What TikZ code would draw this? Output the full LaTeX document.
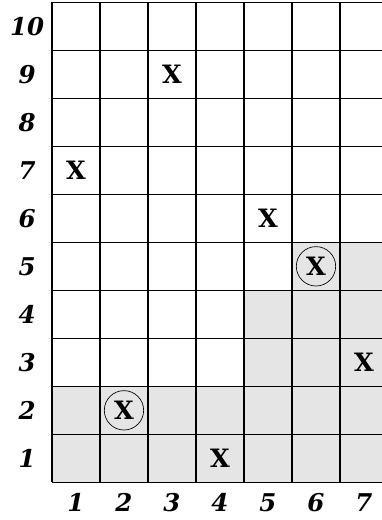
\documentclass[tikz,border=0pt]{standalone}
\usepackage{tikz}
\usetikzlibrary{positioning}
\usepackage{xcolor}
\usepackage{fontspec}
\newfontfamily\gridfont{DejaVu Serif}
\definecolor{shadegray}{RGB}{229,229,229}

\tikzset{
  axislabel/.style={font=\gridfont\bfseries\itshape\fontsize{14.5}{16}\selectfont},
  xmark/.style={font=\gridfont\bfseries\fontsize{15}{17}\selectfont,inner sep=1pt},
}

\begin{document}
\begin{tikzpicture}[x=1cm,y=1cm]
        \useasboundingbox (-1.083,-0.785) rectangle (6.875,10.048);
        % shaded region
        \fill[shadegray] (0,0) rectangle (7,2);
        \fill[shadegray] (4,2) rectangle (7,4);
        \fill[shadegray] (5,4) rectangle (7,5);
        \draw[line width=0.7pt] (0,0) grid (7,10);
        % row and column numbers
        \foreach \r in {1,...,10}
          \node[axislabel] (row\r) at (-0.52,\r-0.5) {\r};
        \foreach \c in {1,...,7}
          \node[axislabel] (col\c) at (\c-0.5,-0.42) {\c};
        % marks
        \foreach \c/\r in {3/9,1/7,5/6,7/3,4/1}
          \node[xmark] (x\c\r) at (\c-0.5,\r-0.5) {X};
        \foreach \c/\r in {6/5,2/2}
          \node[xmark,circle,draw,thin,minimum size=0.82cm] (o\c\r) at (\c-0.5,\r-0.5) {X};
      \end{tikzpicture}
\end{document}
